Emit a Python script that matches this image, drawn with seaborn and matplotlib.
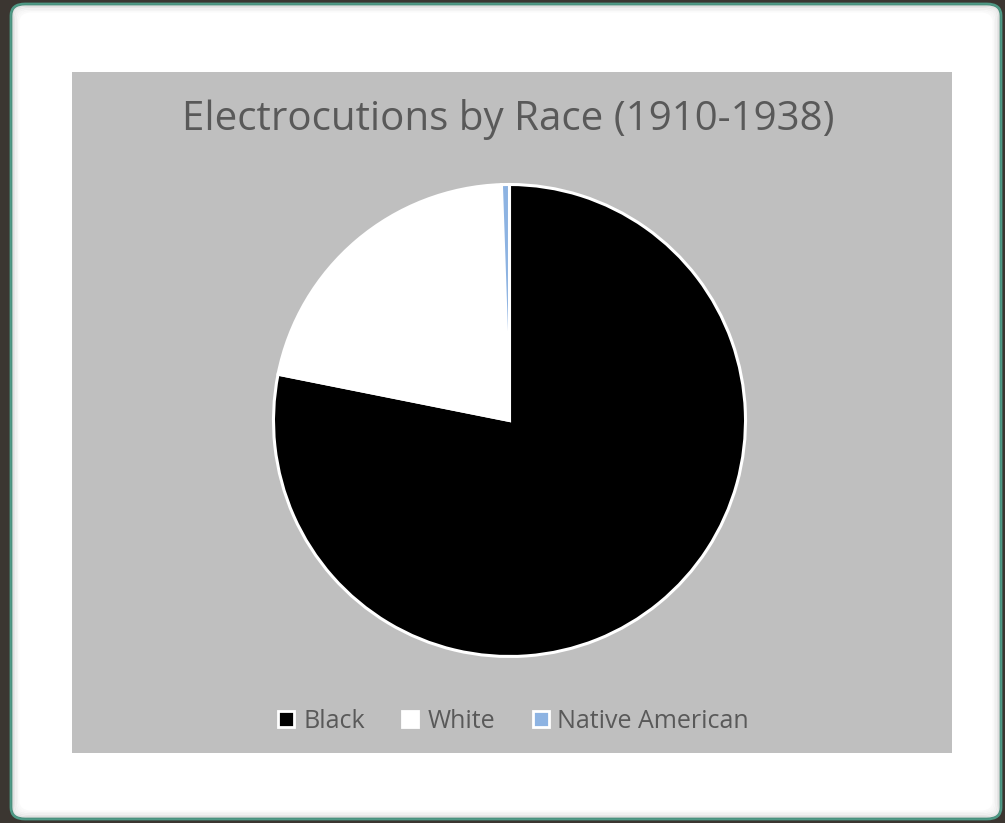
import matplotlib
matplotlib.use("Agg")
import matplotlib.pyplot as plt
from matplotlib.patches import FancyBboxPatch, Rectangle
from matplotlib.lines import Line2D
import seaborn as sns

# Electrocutions by race, 1910-1938
races = ["Black", "White", "Native American"]
counts = [143, 39, 1]
slice_colors = ["#000000", "#ffffff", "#8db3e2"]

title = "Electrocutions by Race (1910-1938)"

sns.set_theme(style="white")
plt.rcParams["font.family"] = ["Open Sans", "DejaVu Sans"]

W, H = 1005, 823
fig = plt.figure(figsize=(W / 100, H / 100), dpi=100, facecolor="#3b3631")

def fx(px):
    return px / W

def fy(py):
    return 1 - py / H

# white card with teal rim
card = FancyBboxPatch((fx(11), fy(819)), fx(990), 815 / H,
                      boxstyle="round,pad=0,rounding_size=0.014",
                      transform=fig.transFigure, facecolor="#ffffff",
                      edgecolor="#4f9a86", linewidth=2.0, zorder=0)
fig.patches.append(card)

# soft inner shading along the card edges
for i, a in enumerate([0.10, 0.07, 0.05, 0.03, 0.02]):
    inset = 1.5 + i * 1.5
    shade = FancyBboxPatch((fx(11 + inset), fy(819 - inset)), fx(990 - 2 * inset),
                           (815 - 2 * inset) / H,
                           boxstyle="round,pad=0,rounding_size=0.013",
                           transform=fig.transFigure, facecolor="none",
                           edgecolor=(0, 0, 0, a), linewidth=1.5, zorder=0.5)
    fig.patches.append(shade)

# grey chart area
fig.patches.append(Rectangle((fx(72), fy(753)), fx(880), 681 / H,
                             transform=fig.transFigure, facecolor="#bfbfbf",
                             edgecolor="none", zorder=1))

cx, cy, r = 509.5, 420.5, 236
ax = fig.add_axes([fx(cx - r), fy(cy + r), fx(2 * r), 2 * r / H])
ax.set_zorder(2)
ax.patch.set_alpha(0)
ax.pie(counts, colors=slice_colors, startangle=90, counterclock=False,
       radius=1.0, wedgeprops=dict(edgecolor="white", linewidth=2.2))
ax.set_xlim(-1.0, 1.0)
ax.set_ylim(-1.0, 1.0)
ax.set_aspect("equal")
ax.axis("off")

fig.text(fx(508), fy(119), title, ha="center", va="center",
         fontsize=29, color="#595959", zorder=3)

handles = [Line2D([], [], linestyle="none", marker="s", markersize=12,
                  markerfacecolor=c, markeredgecolor="white", markeredgewidth=2.0)
           for c in slice_colors]
leg = fig.legend(handles, races, loc="center", bbox_to_anchor=(fx(513), fy(721)),
                 ncol=3, frameon=False, fontsize=18, handlelength=0.75,
                 handletextpad=0.3, columnspacing=1.45, labelcolor="#595959")
leg.set_zorder(3)

fig.savefig("out.png", dpi=100, facecolor=fig.get_facecolor())
